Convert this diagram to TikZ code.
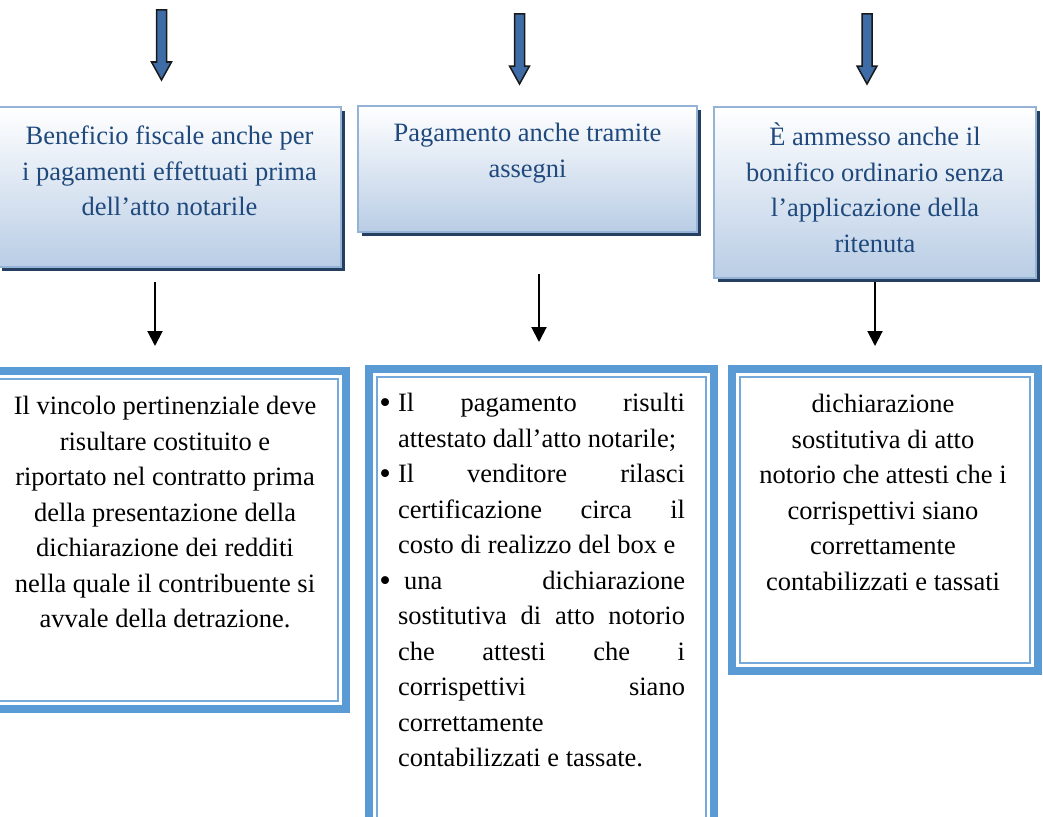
\documentclass[tikz,border=0pt]{standalone}
\usepackage{fontspec}
\setmainfont{Liberation Serif}
\usepackage{tikz}
\usetikzlibrary{arrows.meta}
\usetikzlibrary{calc,positioning,shadows}
\definecolor{arrowblue}{RGB}{61,108,166}
\definecolor{edgeblue}{RGB}{149,179,215}
\definecolor{shadeblue}{RGB}{185,205,229}
\definecolor{shadownavy}{RGB}{36,63,96}
\definecolor{headink}{RGB}{31,73,125}
\definecolor{frameblue}{RGB}{91,155,213}
\tikzset{
 bigfont/.style={font=\fontsize{26.5}{35.5}\selectfont},
 headbox/.style={draw=edgeblue, line width=2pt, outer sep=0pt, anchor=north west,
   top color=white, bottom color=shadeblue,
   drop shadow={shadow xshift=4pt, shadow yshift=-4pt, fill=shadownavy, opacity=1}},
 headtext/.style={bigfont, text=headink, align=center, inner sep=0pt},
 resbox/.style={draw=frameblue, line width=8pt, outer sep=0pt, anchor=north west},
 innerframe/.style={draw=frameblue!85, line width=2pt},
 restext/.style={bigfont, inner sep=0pt},
 pointer/.style={line width=2pt, -{Triangle[width=15pt,length=15pt]}},
 arrowbody/.style={fill=arrowblue, draw=black!90, line width=1.5pt, line join=miter},
 downarrow/.pic={\draw[arrowbody] (-5,0) -- (5,0) -- (5,52) -- (10,52) -- (0,70) -- (-10,52) -- (-5,52) -- cycle;}
}
\newcommand{\fullline}[1]{\hbox to 287pt{#1}}
\newcommand{\itemdot}{\llap{\raisebox{-2pt}{\fontsize{33}{33}\selectfont\textbullet}\hspace{7pt}}}

\begin{document}
\begin{tikzpicture}[x=1pt,y=-1pt]
\path[use as bounding box, clip] (0,0) rectangle (1043,816);
\foreach \x/\y in {161.5/10,519.5/14,867/14}
  \pic at (\x,\y) {downarrow};
\node[headbox, minimum width=343pt, minimum height=160pt] (top1) at (-2,107) {};
\node[headbox, minimum width=339pt, minimum height=126pt] (top2) at (358,106) {};
\node[headbox, minimum width=322pt, minimum height=171pt] (top3) at (714,107) {};
\node[headtext, below=19pt of top1.north] (head1) {Beneficio fiscale anche per\\i pagamenti effettuati prima\\dell’atto notarile};
\node[headtext, below=17pt of top2.north] (head2) {Pagamento anche tramite\\assegni};
\node[headtext, below=16pt of top3.north] (head3) {È ammesso anche il\\bonifico ordinario senza\\l’applicazione della\\ritenuta};
\node[resbox, minimum width=357pt, minimum height=338pt] (res1) at (-11,371) {};
\node[resbox, minimum width=345pt, minimum height=457pt] (res2) at (369,369) {};
\node[resbox, minimum width=306pt, minimum height=302pt] (res3) at (732,369) {};
\foreach \b in {res1,res2,res3}
  \draw[innerframe] ($(\b.north west)+(8,8)$) rectangle ($(\b.south east)+(-8,-8)$);
\node[restext, align=center, below=25pt of res1.north, xshift=-2.5pt] (txt1) {Il vincolo pertinenziale deve\\risultare costituito e\\riportato nel contratto prima\\della presentazione della\\dichiarazione dei redditi\\nella quale il contribuente si\\avvale della detrazione.};
\node[restext, below=24pt of res2.north] (txt2) {\vbox{%
\fullline{\itemdot Il \hfill pagamento \hfill risulti}
\fullline{attestato dall’atto notarile;\hfill}
\fullline{\itemdot Il \hfill venditore \hfill rilasci}
\fullline{certificazione \hfill circa \hfill il}
\fullline{costo di realizzo del box e\hfill}
\fullline{\itemdot\hspace{6pt}una \hfill dichiarazione}
\fullline{sostitutiva \hfill di \hfill atto \hfill notorio}
\fullline{che \hfill attesti \hfill che \hfill i}
\fullline{corrispettivi \hfill siano}
\fullline{correttamente\hfill}
\fullline{contabilizzati e tassate.\hfill}}};
\node[restext, align=center, below=25pt of res3.north, xshift=-2pt] (txt3) {dichiarazione\\sostitutiva di atto\\notorio che attesti che i\\corrispettivi siano\\correttamente\\contabilizzati e tassati};
\draw[pointer] ($(top1.south)+(-14.5,15)$) -- ($(res1.north)+(-12.5,-25)$);
\draw[pointer] ($(top2.south)+(11.5,42)$) -- ($(res2.north)+(-2.5,-27)$);
\draw[pointer] ($(top3.south)+(0,4)$) -- ($(res3.north)+(-10,-23)$);
\end{tikzpicture}
\end{document}
